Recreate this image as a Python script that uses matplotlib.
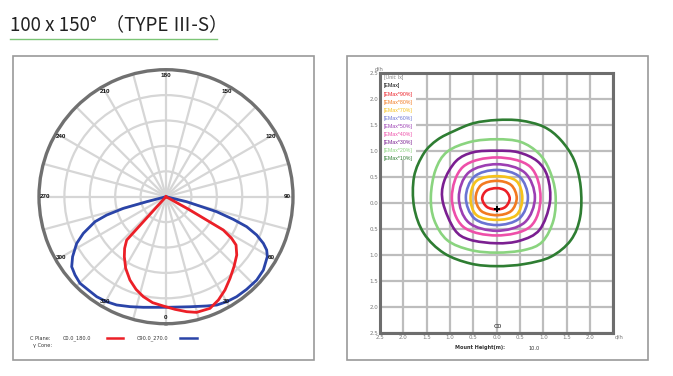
import numpy as np
import matplotlib.pyplot as plt
from matplotlib.patches import Rectangle, PathPatch
from matplotlib.lines import Line2D
from matplotlib.path import Path

W, H = 673, 376

# ---- polar curve data (display angle in deg: 0 = down, 90 = right) ----
red_ang = [-44, -42.2, -38.7, -34.8, -29.4, -23.4, -17.9, -12.8, -7.2, -1.4, 4.6, 10.2, 14.8,
           21.5, 26.9, 32.3, 38.1, 44.2, 50.5, 55.4, 57.6, 59.8, 61, 62]
red_r = [0.0, 0.461, 0.521, 0.575, 0.647, 0.715, 0.767, 0.807, 0.841, 0.861, 0.890, 0.920, 0.942,
         0.945, 0.912, 0.869, 0.817, 0.768, 0.722, 0.670, 0.612, 0.522, 0.2, 0.0]

blue_ang = [-77, -75.5, -74.7, -72.8, -70.6, -66.1, -62.4, -57.3, -53.4, -49.3, -44.8, -39.8,
            -34.7, -29.5, -24.5, -18.1, -11.6, 0, 12.3, 20.4, 25.1, 30.0, 35.2, 41.0, 47.4,
            53.0, 59.4, 62.1, 64.4, 67.1, 69.6, 71.4, 73.5, 76.4, 78]
blue_r = [0.0, 0.157, 0.348, 0.489, 0.593, 0.712, 0.794, 0.874, 0.925, 0.945, 0.961, 0.956,
          0.958, 0.950, 0.937, 0.911, 0.889, 0.871, 0.887, 0.918, 0.942, 0.955, 0.964, 0.967, 0.970,
          0.960, 0.927, 0.897, 0.850, 0.775, 0.678, 0.559, 0.416, 0.167, 0.0]

angle_labels = [0, 30, 60, 90, 120, 150, 180, 210, 240, 270, 300, 330]

# ---- isolux contour data (d/h) ----
c90_x = [0, 0.19, 0.28, 0.19, 0, -0.21, -0.31, -0.22]
c90_y = [0.28, 0.23, 0.08, -0.08, -0.13, -0.08, 0.08, 0.23]

c80_x = [0, 0.31, 0.43, 0.31, 0, -0.33, -0.45, -0.33]
c80_y = [0.42, 0.34, 0.09, -0.16, -0.24, -0.16, 0.09, 0.34]

c70_x = [0, 0.42, 0.55, 0.42, 0, -0.43, -0.56, -0.43]
c70_y = [0.51, 0.42, 0.09, -0.24, -0.33, -0.24, 0.09, 0.42]

c60_x = [0, 0.49, 0.67, 0.49, 0, -0.48, -0.66, -0.48]
c60_y = [0.63, 0.5, 0.1, -0.3, -0.43, -0.3, 0.1, 0.5]

c50_x = [0, 0.6, 0.82, 0.6, 0, -0.6, -0.81, -0.6]
c50_y = [0.74, 0.58, 0.1, -0.38, -0.54, -0.38, 0.1, 0.58]

c40_x = [0, 0.72, 0.94, 0.72, 0, -0.72, -0.96, -0.72]
c40_y = [0.87, 0.69, 0.1, -0.46, -0.63, -0.46, 0.1, 0.69]

c30_x = [0, 0.46, 0.87, 1.09, 1.14, 0.92, 0.5, 0, -0.58, -0.9, -1.15, -1.13, -0.87, -0.5]
c30_y = [1.0, 0.97, 0.8, 0.5, 0, -0.52, -0.73, -0.78, -0.71, -0.52, 0, 0.4, 0.8, 0.97]

c20_x = [0, 0.51, 0.9, 1.13, 1.26, 1.22, 0.98, 0.59, 0, -0.56, -1.06, -1.34, -1.41, -1.31, -1.06, -0.56]
c20_y = [1.22, 1.17, 0.95, 0.63, 0.18, -0.33, -0.75, -0.91, -0.96, -0.91, -0.72, -0.33, 0.12, 0.63, 0.98, 1.17]

c10_x = [0, 0.51, 1.01, 1.37, 1.66, 1.8, 1.79, 1.59, 1.16, 0.59, 0, -0.56, -1.13, -1.56,
         -1.77, -1.77, -1.56, -1.27, -0.91, -0.49]
c10_y = [1.59, 1.58, 1.46, 1.21, 0.82, 0.31, -0.27, -0.72, -1.04, -1.18, -1.22, -1.17, -0.97, -0.59,
         -0.08, 0.5, 0.95, 1.21, 1.38, 1.53]

emax_pos = (0.0, -0.12)

contours = [
    (c10_x, c10_y, '#2e7d32'),
    (c20_x, c20_y, '#8ad47f'),
    (c30_x, c30_y, '#7b1f91'),
    (c40_x, c40_y, '#ee4fa9'),
    (c50_x, c50_y, '#9c3fb3'),
    (c60_x, c60_y, '#6a73d3'),
    (c70_x, c70_y, '#f6c21b'),
    (c80_x, c80_y, '#f27a21'),
    (c90_x, c90_y, '#ec1f27'),
]

legend_labels = ['[Unit: lx]', '[EMax]', '[EMax*90%]', '[EMax*80%]', '[EMax*70%]', '[EMax*60%]',
                 '[EMax*50%]', '[EMax*40%]', '[EMax*30%]', '[EMax*20%]', '[EMax*10%]']
legend_colors = ['#808080', '#000000', '#ec1f27', '#f27a21', '#f6c21b', '#6a73d3',
                 '#9c3fb3', '#ee4fa9', '#7b1f91', '#8ad47f', '#2e7d32']


def px_box(x0, y0, x1, y1):
    return [x0 / W, 1 - y1 / H, (x1 - x0) / W, (y1 - y0) / H]


def closed_curve(xs, ys):
    # smooth closed bezier through the given points (catmull-rom style handles)
    pts = np.column_stack([xs, ys])
    n = len(pts)
    verts = [pts[0]]
    codes = [Path.MOVETO]
    for i in range(n):
        p0, p1, p2, p3 = pts[i - 1], pts[i], pts[(i + 1) % n], pts[(i + 2) % n]
        verts += [p1 + (p2 - p0) / 6, p2 - (p3 - p1) / 6, p2]
        codes += [Path.CURVE4] * 3
    return Path(verts, codes)


fig = plt.figure(figsize=(W / 100, H / 100), dpi=100)

# title + underline
fig.text(10 / W, 1 - 30 / H, '100 x 150°  （TYPE Ⅲ-S）', fontsize=13.5, color='#222222',
         family=['Noto Sans CJK SC', 'DejaVu Sans'], va='baseline', ha='left')
fig.add_artist(Line2D([10 / W, 217 / W], [1 - 38.7 / H] * 2, color='#7cc576', lw=1))

# panel frames
for x0, x1 in [(13, 314), (347, 648)]:
    fig.add_artist(Rectangle((x0 / W, 1 - 360 / H), (x1 - x0) / W, 304 / H,
                             transform=fig.transFigure, fill=False, ec='#9a9a9a', lw=1.2))

# ---------------- polar diagram ----------------
ax = fig.add_axes(px_box(39, 69.7, 293, 323.7), projection='polar')
ax.set_theta_zero_location('S')
ax.set_ylim(0, 1)
ax.set_thetagrids(np.arange(0, 360, 15), labels=[])
ax.set_rgrids([0.2, 0.4, 0.6, 0.8], labels=[])
ax.grid(color='#d6d6d6', lw=1.6)
ax.spines['polar'].set_color('#707070')
ax.spines['polar'].set_linewidth(2.4)
ax.plot(np.radians(blue_ang), blue_r, color='#2a44a8', lw=2.0)
ax.plot(np.radians(red_ang), red_r, color='#ec1f27', lw=2.0)
for a in angle_labels:
    ax.text(np.radians(a), 0.955, str(a), ha='center', va='center', fontsize=4.5,
            fontweight='bold', family='Liberation Sans', color='#111111')

# polar legend
fs = 3.6
fig.text(30 / W, 1 - 338 / H, 'C Plane:', fontsize=fs, va='center', color='#333333')
fig.text(33 / W, 1 - 346 / H, 'γ Cone:', fontsize=fs, va='center', color='#333333')
fig.text(63 / W, 1 - 338 / H, 'C0.0_180.0', fontsize=fs, va='center', color='#333333')
fig.text(137 / W, 1 - 338 / H, 'C90.0_270.0', fontsize=fs, va='center', color='#333333')
fig.add_artist(Line2D([107 / W, 123 / W], [1 - 338 / H] * 2, color='#ec1f27', lw=1.8))
fig.add_artist(Line2D([180 / W, 197 / W], [1 - 338 / H] * 2, color='#2a44a8', lw=1.8))

# ---------------- isolux diagram ----------------
ax2 = fig.add_axes(px_box(380, 72.7, 613.3, 332.7))
ax2.set_xlim(-2.5, 2.5)
ax2.set_ylim(-2.5, 2.5)
ticks = np.arange(-2.5, 2.51, 0.5)
tick_labels = ['%.1f' % abs(t) for t in ticks]
ax2.set_xticks(ticks)
ax2.set_xticklabels(tick_labels[:-1] + [''])
ax2.set_yticks(ticks)
ax2.set_yticklabels(tick_labels)
ax2.tick_params(length=0, labelsize=4, labelcolor='#777777', pad=1.5)
ax2.grid(color='#bdbdbd', lw=1.6)
ax2.set_axisbelow(True)
for s in ax2.spines.values():
    s.set_color('#6d6d6d')
    s.set_linewidth(2.2)

for cx, cy, col in contours:
    ax2.add_patch(PathPatch(closed_curve(cx, cy), fill=False, ec=col, lw=1.9, zorder=3))
ax2.plot(*emax_pos, marker='P', color='black', ms=4.5, mew=0, zorder=4)

ax2.add_patch(Rectangle((-2.46, 0.82), 0.74, 1.66, fc='white', ec='none', zorder=2))
for i, (lab, col) in enumerate(zip(legend_labels, legend_colors)):
    ax2.text(-2.42, 2.4 - i * 0.155, lab, color=col, fontsize=3.8, va='center',
             ha='left', family='Liberation Sans', zorder=5)

fig.text(379 / W, 1 - 69 / H, 'd/h', fontsize=4, color='#777777', ha='center', va='center')
fig.text(615 / W, 1 - 337 / H, 'd/h', fontsize=4, color='#777777', ha='left', va='center')
ax2.text(0.02, -2.42, 'C0', fontsize=4.5, ha='center', va='bottom', color='#111111', zorder=5)
fig.text(480 / W, 1 - 348 / H, 'Mount Height(m):', fontsize=3.6, fontweight='bold',
         ha='center', va='center', color='#333333')
fig.text(534 / W, 1 - 348 / H, '10.0', fontsize=3.6, ha='center', va='center', color='#333333')

fig.savefig('out.png', dpi=100)
